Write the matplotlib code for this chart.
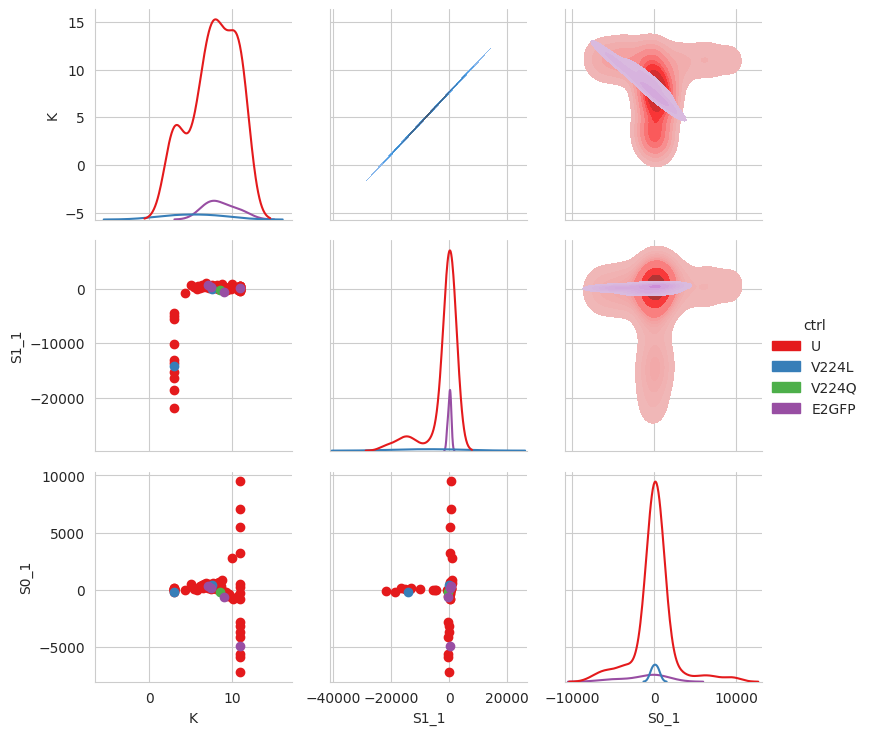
#
#  Pair grid of K, S1_1 and S0_1 split by ctrl group.
#  upper: filled kde, diagonal: kde, lower: plain scatter
#
import warnings
import numpy as np
import pandas as pd
import matplotlib
matplotlib.use('Agg')
import matplotlib.pyplot as plt
import seaborn as sns
warnings.filterwarnings('ignore')   # singular kde warnings for the small groups

groups = ['U', 'V224L', 'V224Q', 'E2GFP']

# U : K == 3 arm (S1_1 spread, S0_1 near zero)
u_a_K  = [3.0]*10
u_a_S1 = [-21900, -18600, -16400, -15200, -13600, -13000, -10100, -5550, -4950, -4350]
u_a_S0 = [-100, -200, 150, 100, 50, 150, 50, 0, 0, -50]

# U : middle cluster
u_m_K  = [4.3, 5.0, 5.4, 5.7, 5.9, 6.1, 6.3, 6.5, 6.6, 6.8,
          6.9, 7.0, 7.1, 7.2, 7.3, 7.4, 7.5, 7.6, 7.7, 7.8,
          7.9, 8.0, 8.1, 8.2, 8.3, 8.4, 8.5, 8.6, 8.8, 8.9,
          9.0, 9.2, 9.4, 9.6, 9.8, 10.0, 10.1]
u_m_S1 = [-660, 700, 300, 100, 500, 200, 800, 400, 600, 1100,
          300, 500, 700, 200, 400, 600, 300, 800, 500, 200,
          400, 600, 300, 700, 100, 500, 200, 400, 900, 300,
          100, 200, -200, 300, 100, 900, 300]
u_m_S0 = [0, 530, 100, 0, 200, 300, 400, 200, 500, 600,
          300, 400, 200, 500, 300, 100, 400, 200, 600, 300,
          500, 100, 400, 600, 200, 700, 0, 300, 900, -100,
          -300, -200, -500, -400, -600, 2780, -800]

# U : K == 11 arm (S0_1 spread, S1_1 near zero)
u_b_K  = [11, 11, 11, 11, 11, 11, 10.9, 10.7, 11, 11, 11, 11, 11, 11, 11, 11]
u_b_S1 = [600, 600, 250, 250, 600, 500, 300, -100, 200, -200, 0, -100, -200, -300, -300, -100]
u_b_S0 = [9500, 7080, 5500, 3200, 530, 230, -300, -500, -800, -2780, -3200,
          -3650, -4100, -5600, -5900, -7200]

v224l_K, v224l_S1, v224l_S0 = [3.0, 7.6], [-14200, 0], [-200, 400]
v224q_K, v224q_S1, v224q_S0 = [8.5], [-200], [-150]
e2gfp_K  = [7.1, 7.4, 9.0, 11.0]
e2gfp_S1 = [700, 300, -500, 200]
e2gfp_S0 = [350, 150, -600, -4900]

K  = u_a_K + u_m_K + u_b_K + v224l_K + v224q_K + e2gfp_K
S1 = u_a_S1 + u_m_S1 + u_b_S1 + v224l_S1 + v224q_S1 + e2gfp_S1
S0 = u_a_S0 + u_m_S0 + u_b_S0 + v224l_S0 + v224q_S0 + e2gfp_S0
n_u = len(u_a_K) + len(u_m_K) + len(u_b_K)
ctrl = ['U']*n_u + ['V224L']*2 + ['V224Q']*1 + ['E2GFP']*4

df = pd.DataFrame({'K': K, 'S1_1': S1, 'S0_1': S0, 'ctrl': ctrl})

sns.set_style('whitegrid')
g = sns.PairGrid(df, hue='ctrl', hue_order=groups, palette='Set1', diag_sharey=False)
g.map_diag(sns.kdeplot)
g.map_lower(plt.scatter)
g.map_upper(sns.kdeplot, fill=True)
g.add_legend()

plt.savefig('out.png', dpi=100, bbox_inches='tight')
